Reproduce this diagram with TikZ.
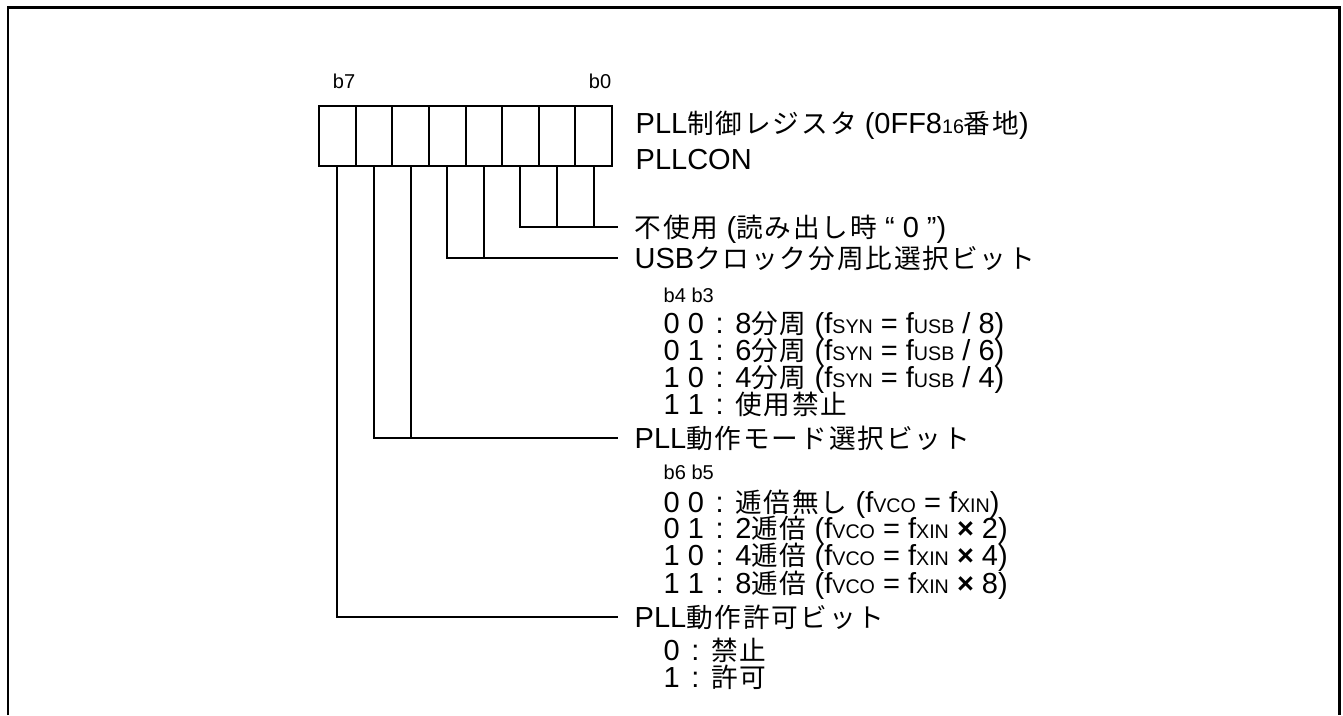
\documentclass[tikz,border=0pt]{standalone}
\usepackage{fontspec}
\setmainfont{Liberation Sans}
\newfontfamily\jpfont[Scale=0.92, LetterSpace=7]{Noto Sans CJK JP}
\usepackage{tikz}
\usetikzlibrary{positioning}
\newcommand{\jp}[1]{{\jpfont #1}}
\newcommand{\lo}[1]{{\fontsize{5.6pt}{6pt}\selectfont #1}}
\newcommand{\sepc}{\hspace{0.4em}:\hspace{0.4em}}

\begin{document}
\begin{tikzpicture}[
    bitcell/.style={rectangle, draw, line width=0.57pt, minimum width=0.36625cm,
        minimum height=0.6cm, inner sep=0pt},
    bitlbl/.style={font=\fontsize{5.7pt}{6pt}\selectfont, inner sep=0pt, anchor=base},
    head/.style={anchor=west, inner xsep=0.16cm, inner ysep=0pt, text height=6.19pt,
        text depth=0.25pt, font=\fontsize{8.25pt}{9pt}\selectfont},
    item/.style={head, inner xsep=0pt},
    hint/.style={item, text height=4.28pt, text depth=0.17pt, font=\fontsize{5.7pt}{6pt}\selectfont},
    leader/.style={line width=0.57pt}
]
\useasboundingbox (0,0) rectangle (13.43,7.15);
% frame
\draw[line width=0.85pt] (0.08,0) -- (0.08,7.075) -- (13.39,7.075) -- (13.39,0);
% register cells b7 ... b0
\foreach \i in {0,...,7}
    \node[bitcell] (b\i) at ({3.19+(7.5-\i)*0.36625}, 5.79) {};
\node[bitlbl] (lb7) at (3.44, 6.27) {b7};
\node[bitlbl] (lb0) at (6.00, 6.27) {b0};
\node[item] (regname) at (6.35, 5.92) {PLL\jp{制御レジスタ} (0FF8\lo{16}\jp{番地})};
\node[item] (regsym) at (6.35, 5.56) {PLLCON};
% bit fields
\node[head] (unused) at (6.18, 4.883) {\jp{不使用} (\jp{読み出し時} “ 0 ”)};
\node[head] (usbdiv) at (6.18, 4.573) {USB\jp{クロック分周比選択ビット}};
\node[hint] (usbhint) at (6.63, 4.20) {b4 b3};
\node[item] (usb0) at (6.63, 3.92) {0 0\sepc 8\jp{分周} (f\lo{SYN} = f\lo{USB} / 8)};
\node[item] (usb1) at (6.63, 3.65) {0 1\sepc 6\jp{分周} (f\lo{SYN} = f\lo{USB} / 6)};
\node[item] (usb2) at (6.63, 3.38) {1 0\sepc 4\jp{分周} (f\lo{SYN} = f\lo{USB} / 4)};
\node[item] (usb3) at (6.63, 3.11) {1 1\sepc\jp{使用禁止}};
\node[head] (pllmode) at (6.18, 2.773) {PLL\jp{動作モード選択ビット}};
\node[hint] (modehint) at (6.63, 2.43) {b6 b5};
\node[item] (mode0) at (6.63, 2.13) {0 0\sepc\jp{逓倍無し} (f\lo{VCO} = f\lo{XIN})};
\node[item] (mode1) at (6.63, 1.87) {0 1\sepc 2\jp{逓倍} (f\lo{VCO} = f\lo{XIN} \textbf{×} 2)};
\node[item] (mode2) at (6.63, 1.60) {1 0\sepc 4\jp{逓倍} (f\lo{VCO} = f\lo{XIN} \textbf{×} 4)};
\node[item] (mode3) at (6.63, 1.32) {1 1\sepc 8\jp{逓倍} (f\lo{VCO} = f\lo{XIN} \textbf{×} 8)};
\node[head] (pllen) at (6.18, 0.983) {PLL\jp{動作許可ビット}};
\node[item] (en0) at (6.63, 0.65) {0\sepc\jp{禁止}};
\node[item] (en1) at (6.63, 0.38) {1\sepc\jp{許可}};
% leaders
\draw[leader] (b2.south) |- (unused.west);
\draw[leader] (b1.south) -- (b1.south |- unused.west);
\draw[leader] (b0.south) -- (b0.south |- unused.west);
\draw[leader] (b4.south) |- (usbdiv.west);
\draw[leader] (b3.south) -- (b3.south |- usbdiv.west);
\draw[leader] (b6.south) |- (pllmode.west);
\draw[leader] (b5.south) -- (b5.south |- pllmode.west);
\draw[leader] (b7.south) |- (pllen.west);
\end{tikzpicture}
\end{document}
